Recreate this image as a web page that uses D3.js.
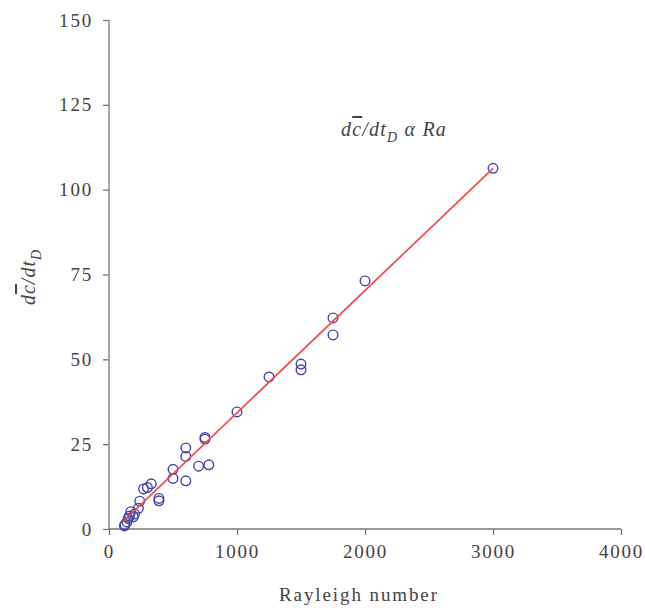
<!DOCTYPE html>
<html>
<head>
<meta charset="utf-8">
<script src="https://cdn.jsdelivr.net/npm/d3@7"></script>
<style>
  body { margin: 0; background: #fff; }
  text { font-family: "Times New Roman", Times, "Liberation Serif", Tinos, "Nimbus Roman", "DejaVu Serif", serif; fill: #444; }
</style>
</head>
<body>
<svg id="chart" width="645" height="612"></svg>
<script>
// Rayleigh number vs mean dissolution rate
var rayleigh = [3000, 2000, 1750, 1750, 1500, 1500, 1250, 1000, 750, 750,
  600, 600, 780, 700, 500, 500, 600, 330, 270, 300,
  390, 390, 240, 230, 170, 190, 150, 200, 125, 120, 140, 160];
var rate = [106.3, 73.1, 62.2, 57.2, 48.6, 46.9, 44.8, 34.5, 27, 26.5,
  23.9, 21.4, 18.9, 18.5, 17.6, 14.9, 14.2, 13.3, 11.8, 12.2,
  9.0, 8.3, 8.2, 6.1, 5.1, 3.6, 3.1, 4.4, 1.3, 0.9, 2.0, 3.8];
// fitted line end points
var fitX = [110, 3000];
var fitY = [2.2, 106.3];
var xTicks = [0, 1000, 2000, 3000, 4000];
var yTicks = [0, 25, 50, 75, 100, 125, 150];

var serif = '"Times New Roman", Times, "Liberation Serif", Tinos, "Nimbus Roman", "DejaVu Serif", serif';

var svg = d3.select("#chart");

var x = d3.scaleLinear().domain([0, 4000]).range([109, 621]);
var y = d3.scaleLinear().domain([0, 150]).range([529, 20]);

// axes
var gx = svg.append("g").attr("transform", "translate(0,529)")
  .call(d3.axisBottom(x).tickValues(xTicks).tickSize(6).tickPadding(10).tickFormat(d3.format("d")));
var gy = svg.append("g").attr("transform", "translate(109,0)")
  .call(d3.axisLeft(y).tickValues(yTicks).tickSize(6).tickPadding(10));

[gx, gy].forEach(function(g) {
  g.attr("font-family", null);
  g.select(".domain").attr("stroke", "#777").attr("stroke-width", 1.3);
  g.selectAll(".tick line").attr("stroke", "#777").attr("stroke-width", 1.3);
  g.selectAll(".tick text")
    .style("font-family", serif)
    .style("font-size", "19px")
    .style("letter-spacing", "1.8px")
    .attr("fill", "#444");
});
gx.select(".domain").attr("d", "M109,0H621");
gy.select(".domain").attr("d", "M0,20V529");

// points
svg.append("g").selectAll("circle")
  .data(rayleigh.map(function(r, i) { return {x: r, y: rate[i]}; }))
  .enter()
  .append("circle")
  .attr("cx", function(d) { return x(d.x) })
  .attr("cy", function(d) { return y(d.y) })
  .attr("r", 4.8)
  .attr("fill", "none")
  .attr("stroke", "#4444aa")
  .attr("stroke-width", 1.4);

// fit line
svg.append("line")
  .attr("x1", x(fitX[0])).attr("y1", y(fitY[0]))
  .attr("x2", x(fitX[1])).attr("y2", y(fitY[1]))
  .attr("stroke", "#f24a4a")
  .attr("stroke-width", 1.7);

// annotation
var ann = svg.append("text")
  .attr("x", 341).attr("y", 136)
  .style("font-family", serif)
  .style("font-size", "20px")
  .style("letter-spacing", "1.2px")
  .style("font-style", "italic");
ann.append("tspan").text("d");
ann.append("tspan").text("c").style("text-decoration", "overline");
ann.append("tspan").text("/dt");
ann.append("tspan").text("D").attr("dy", 6).style("font-size", "14px");
ann.append("tspan").text(" \u03b1 ").attr("dy", -6);
ann.append("tspan").text("Ra");

// axis titles
svg.append("text")
  .attr("x", 359).attr("y", 601)
  .attr("text-anchor", "middle")
  .style("font-family", serif)
  .style("font-size", "19px")
  .style("letter-spacing", "1.9px")
  .text("Rayleigh number");

var yl = svg.append("text")
  .attr("transform", "translate(35,277) rotate(-90)")
  .attr("text-anchor", "middle")
  .style("font-family", serif)
  .style("font-size", "20px")
  .style("letter-spacing", "1px")
  .style("font-style", "italic");
yl.append("tspan").text("d");
yl.append("tspan").text("c").style("text-decoration", "overline");
yl.append("tspan").text("/dt");
yl.append("tspan").text("D").attr("dy", 6).style("font-size", "14px");
</script>
</body>
</html>
